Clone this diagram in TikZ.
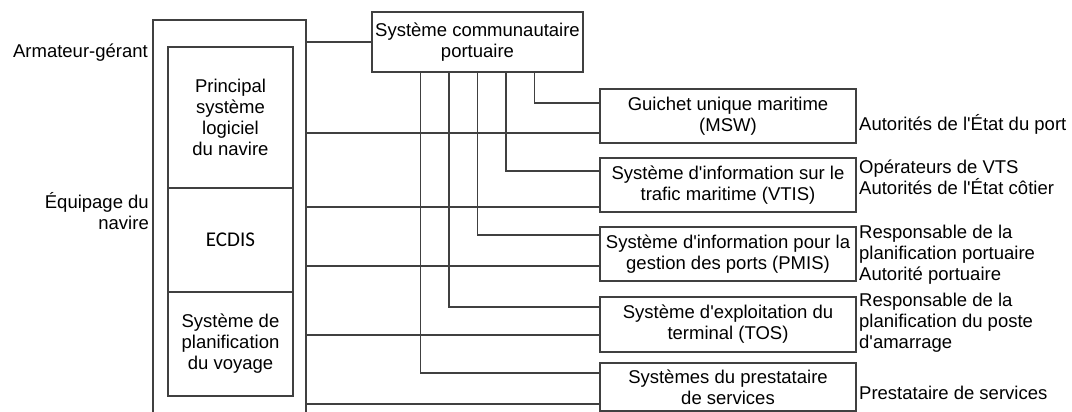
\documentclass[tikz,border=0pt]{standalone}
\usepackage{fontspec}
\setmainfont{Liberation Sans}
\newfontfamily\ecdisfont{Carlito}
\usepackage{tikz}
\usetikzlibrary{positioning,calc}
\definecolor{linegray}{RGB}{64,64,64}
\newcommand{\ap}{\textquotesingle}

\begin{document}
\begin{tikzpicture}[x=1pt,y=-1pt,
    txt/.style={font=\fontsize{18.5}{21}\selectfont},
    shipbox/.style={draw=linegray,line width=1.3pt,minimum width=153pt,minimum height=420pt},
    sysbox/.style={draw=linegray,line width=1.3pt,txt,align=center,inner sep=1pt},
    actor/.style={txt,align=left,anchor=west,inner sep=0pt},
    link/.style={linegray,line width=1.3pt}]
    \useasboundingbox (0,0) rectangle (1072,412);

    % Ship side
    \node[shipbox] (ship) at (229.5,230) {};
    \node[sysbox,minimum width=125pt,minimum height=141pt] (main) at (230.5,117.5)
        {Principal\\système\\logiciel\\du navire};
    \node[sysbox,minimum width=125pt,minimum height=104pt,font=\ecdisfont\fontsize{21}{24}\selectfont] (ecdis) at (230.5,240) {ECDIS};
    \node[sysbox,minimum width=125pt,minimum height=104pt] (voyage) at (230.5,344)
        {Système de\\planification\\du voyage};
    \node[txt,anchor=east,inner sep=0pt] (owner) at (148,53) {Armateur-gérant};
    \node[txt,anchor=east,align=right,inner sep=0pt] (crew) at (149,211) {Équipage du\\navire};

    % Port community system
    \node[sysbox,minimum width=211pt,minimum height=60pt] (pcs) at (477.5,42)
        {Système communautaire\\portuaire};
    \draw[link] (pcs.west) -- (pcs.west -| ship.east);

    % Shore systems
    \node[sysbox,minimum width=256pt,minimum height=54pt] (msw) at (728,116)
        {Guichet unique maritime\\(MSW)};
    \node[sysbox,minimum width=256pt,minimum height=54pt] (vtis) at (728,185)
        {Système d\ap information sur le\\trafic maritime (VTIS)};
    \node[sysbox,minimum width=256pt,minimum height=54pt] (pmis) at (728,254)
        {Système d\ap information pour la\\gestion des ports (PMIS)};
    \node[sysbox,minimum width=256pt,minimum height=55pt] (tos) at (728,324.5)
        {Système d\ap exploitation du\\terminal (TOS)};
    \node[sysbox,minimum width=256pt,minimum height=48pt] (svc) at (728,387)
        {Systèmes du prestataire\\de services};

    % Shore actors
    \node[actor] (msw-user) at (859,124) {Autorités de l\ap État du port};
    \node[actor] (vtis-user) at (859,177) {Opérateurs de VTS\\Autorités de l\ap État côtier};
    \node[actor] (pmis-user) at (859,255) {Responsable de la\\planification portuaire\\Autorité portuaire};
    \node[actor] (tos-user) at (859,323) {Responsable de la\\planification du poste\\d\ap amarrage};
    \node[actor] (svc-user) at (859,393) {Prestataire de services};

    % Links from the PCS
    \foreach \sys/\k/\dy in {msw/2/13,vtis/1/14,pmis/0/19,tos/-1/17.5,svc/-2/14} {
        \coordinate (\sys-pcs) at ([yshift=\dy pt]\sys.west);
        \draw[link] ([xshift=\k*28.5pt]pcs.south) |- (\sys-pcs);
    }

    % Links from the ship
    \foreach \sys/\dy in {msw/17,vtis/22,pmis/12,tos/10.5,svc/17} {
        \coordinate (\sys-ship) at ([yshift=-\dy pt]\sys.west);
        \draw[link] (\sys-ship) -- (\sys-ship -| ship.east);
    }
\end{tikzpicture}
\end{document}
